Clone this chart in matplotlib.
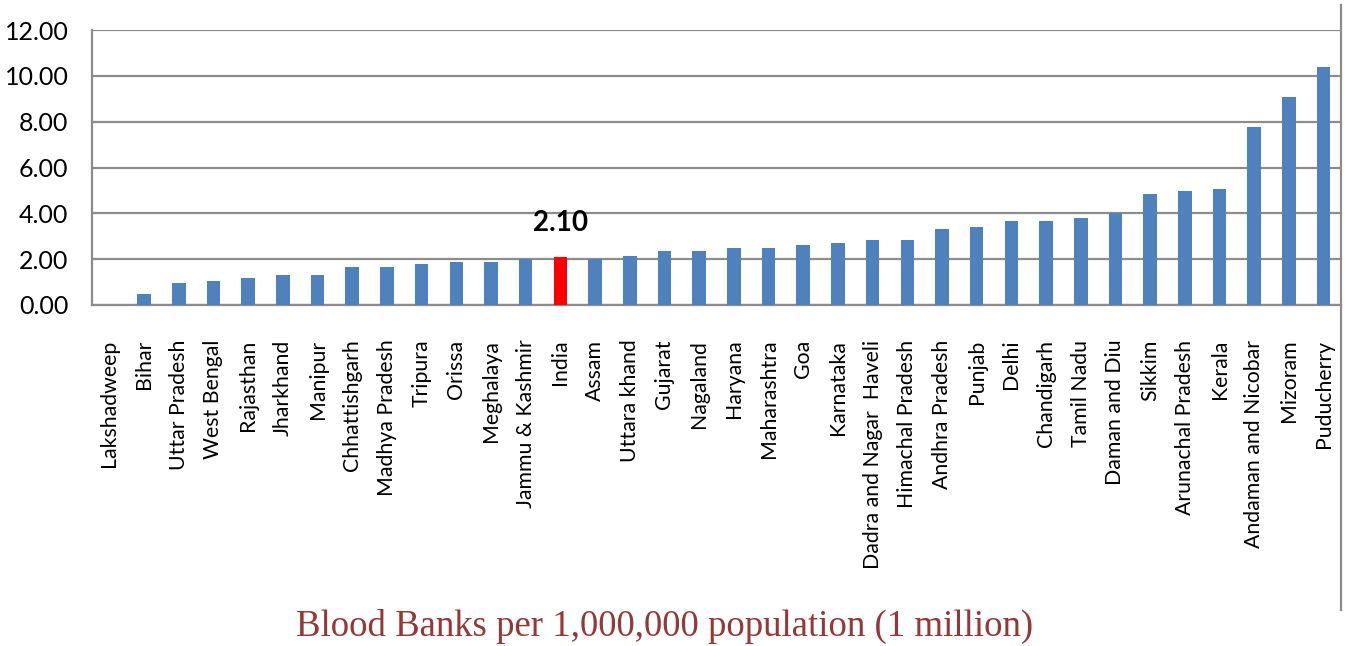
import matplotlib
matplotlib.use("Agg")
import matplotlib.pyplot as plt
from matplotlib.lines import Line2D

states = ["Lakshadweep", "Bihar", "Uttar Pradesh", "West Bengal", "Rajasthan", "Jharkhand",
          "Manipur", "Chhattishgarh", "Madhya Pradesh", "Tripura", "Orissa", "Meghalaya",
          "Jammu & Kashmir", "India", "Assam", "Uttara khand", "Gujarat", "Nagaland",
          "Haryana", "Maharashtra", "Goa", "Karnataka", "Dadra and Nagar  Haveli",
          "Himachal Pradesh", "Andhra Pradesh", "Punjab", "Delhi", "Chandigarh",
          "Tamil Nadu", "Daman and Diu", "Sikkim", "Arunachal Pradesh", "Kerala",
          "Andaman and Nicobar", "Mizoram", "Puducherry"]
values = [0.0, 0.48, 0.95, 1.06, 1.19, 1.31, 1.31, 1.66, 1.66, 1.77, 1.89, 1.89,
          2.02, 2.10, 2.02, 2.14, 2.37, 2.37, 2.49, 2.49, 2.60, 2.72, 2.84,
          2.84, 3.30, 3.42, 3.66, 3.66, 3.78, 4.03, 4.84, 4.96, 5.07,
          7.78, 9.09, 10.38]
highlight = "India"
yticks = [0, 2, 4, 6, 8, 10, 12]
title = "Blood Banks per 1,000,000 population (1 million)"

W, H = 1349, 646
fig = plt.figure(figsize=(W / 100, H / 100), dpi=100)
ax = fig.add_axes([92 / W, 1 - 305 / H, (1341 - 92) / W, 275 / H])

x = list(range(len(states)))
colors = ["#FF0000" if s == highlight else "#4F81BD" for s in states]
ax.bar(x, values, width=0.39, color=colors, zorder=3)

ax.set_xlim(-0.5, len(states) - 0.5)
ax.set_ylim(0, 12)
ax.set_yticks(yticks)
ax.set_yticklabels([f"{v:.2f}" for v in yticks], fontsize=18, family="Lato")
ax.yaxis.grid(True, color="#8C8C8C", linewidth=1.6, zorder=0)
ax.set_xticks(x)
ax.set_xticklabels(states, rotation=90, fontsize=15.3, family="Lato", va="top")
ax.tick_params(axis="x", length=0, pad=25)
ax.tick_params(axis="y", length=0, pad=17)
for side in ["top", "right"]:
    ax.spines[side].set_visible(False)
ax.spines["left"].set_color("#8C8C8C")
ax.spines["left"].set_linewidth(1.6)
ax.spines["bottom"].set_color("#8C8C8C")
ax.spines["bottom"].set_linewidth(1.6)

i = states.index(highlight)
ax.annotate(f"{values[i]:.2f}", (i, values[i]), xytext=(0, 15), textcoords="offset points",
            ha="center", va="bottom", fontsize=20, fontweight="bold", family="Lato")

# right-hand vertical frame line
fig.add_artist(Line2D([1341 / W, 1341 / W], [1 - 5 / H, 1 - 610 / H],
                      transform=fig.transFigure, color="#8C8C8C", linewidth=1.6))

fig.text(665 / W, 1 - 626 / H, title, ha="center", va="center", fontsize=26.5,
         family="Liberation Serif", color="#953735")

fig.savefig("out.png", dpi=100)
